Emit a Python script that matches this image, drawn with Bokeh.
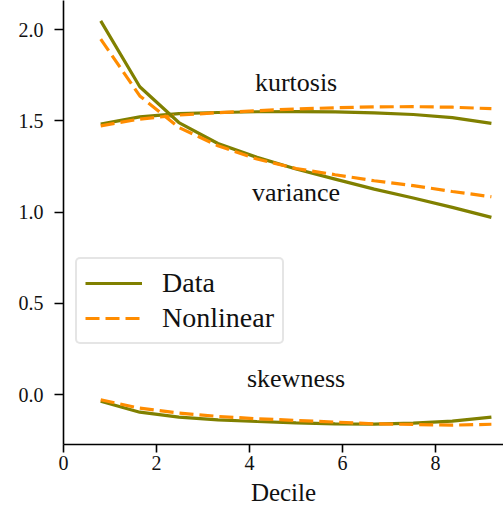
from bokeh.plotting import figure
from bokeh.models import Range1d, Legend, LegendItem, FixedTicker
from bokeh.core.properties import value
from bokeh.embed import file_html
from bokeh.resources import INLINE

decile = [0.8, 1.64, 2.48, 3.32, 4.16, 5.0, 5.84, 6.68, 7.52, 8.36, 9.2]

kurt_data = [1.482, 1.522, 1.540, 1.546, 1.550, 1.551, 1.549, 1.544, 1.535, 1.518, 1.486]
kurt_nonlin = [1.473, 1.510, 1.532, 1.545, 1.556, 1.565, 1.572, 1.577, 1.578, 1.575, 1.567]

var_data = [2.048, 1.687, 1.491, 1.376, 1.300, 1.236, 1.181, 1.126, 1.077, 1.026, 0.971]
var_nonlin = [1.948, 1.637, 1.464, 1.364, 1.291, 1.239, 1.205, 1.172, 1.145, 1.113, 1.084]

skew_data = [-0.037, -0.097, -0.124, -0.139, -0.148, -0.155, -0.161, -0.162, -0.157, -0.146, -0.124]
skew_nonlin = [-0.029, -0.075, -0.102, -0.120, -0.133, -0.142, -0.151, -0.161, -0.164, -0.168, -0.163]

stat_names = ["kurtosis", "variance", "skewness"]
stat_label_x = [5.0, 5.0, 5.0]
stat_label_y = [1.71, 1.106, 0.088]

series_names = ["Data", "Nonlinear"]
x_ticks = [0, 2, 4, 6, 8]
y_ticks = [0.0, 0.5, 1.0, 1.5, 2.0]

FONT = "Liberation Serif"
OLIVE = "#808000"
ORANGE = "#FF8C00"
TXT = "#111111"

p = figure(width=503, height=510, output_backend="svg", toolbar_location=None,
           x_range=Range1d(0, 9.46), y_range=Range1d(-0.274, 2.16),
           min_border_left=63, min_border_right=0, min_border_top=0, min_border_bottom=66)
p.outline_line_color = None
p.grid.visible = False
p.background_fill_color = "white"
p.border_fill_color = "white"

r_data = []
r_nl = []
for yd, yn in [(kurt_data, kurt_nonlin), (var_data, var_nonlin), (skew_data, skew_nonlin)]:
    r_data.append(p.line(decile, yd, line_color=OLIVE, line_width=3.2))
    r_nl.append(p.line(decile, yn, line_color=ORANGE, line_width=3.2, line_dash="14 6"))

p.text(x=stat_label_x, y=stat_label_y, text=stat_names, text_align="center",
       text_baseline="middle", text_font=value(FONT), text_font_size="26px", text_color=TXT)

for ax in (p.xaxis[0], p.yaxis[0]):
    ax.axis_line_width = 1.6
    ax.axis_line_color = "black"
    ax.major_tick_line_width = 1.6
    ax.major_tick_in = 0
    ax.minor_tick_line_color = None
    ax.major_label_text_font = FONT
    ax.major_label_text_font_size = "20px"
    ax.major_label_text_color = TXT
p.yaxis.major_tick_out = 9
p.xaxis.major_tick_out = 8
p.yaxis.major_label_standoff = 11
p.xaxis.major_label_standoff = 3
p.xaxis.ticker = FixedTicker(ticks=x_ticks)
p.yaxis.ticker = FixedTicker(ticks=y_ticks)
p.yaxis.major_label_overrides = {v: f"{v:.1f}" for v in y_ticks}
p.xaxis.axis_label = "Decile"
p.xaxis.axis_label_text_font = FONT
p.xaxis.axis_label_text_font_style = "normal"
p.xaxis.axis_label_text_font_size = "25px"
p.xaxis.axis_label_text_color = TXT
p.xaxis.axis_label_standoff = 6

legend = Legend(items=[LegendItem(label=series_names[0], renderers=[r_data[0]]),
                       LegendItem(label=series_names[1], renderers=[r_nl[0]])],
                location=(12, 100))
legend.label_text_font = FONT
legend.label_text_font_size = "28px"
legend.label_text_color = TXT
legend.border_line_color = "#cccccc"
legend.border_line_width = 2
legend.glyph_width = 57
legend.label_standoff = 20
legend.padding = 8
legend.spacing = 3
legend.margin = 0
legend.background_fill_alpha = 0.9
if "border_radius" in Legend.properties():
    legend.border_radius = 5
p.add_layout(legend)

open("out.html", "w").write(file_html(p, INLINE))
